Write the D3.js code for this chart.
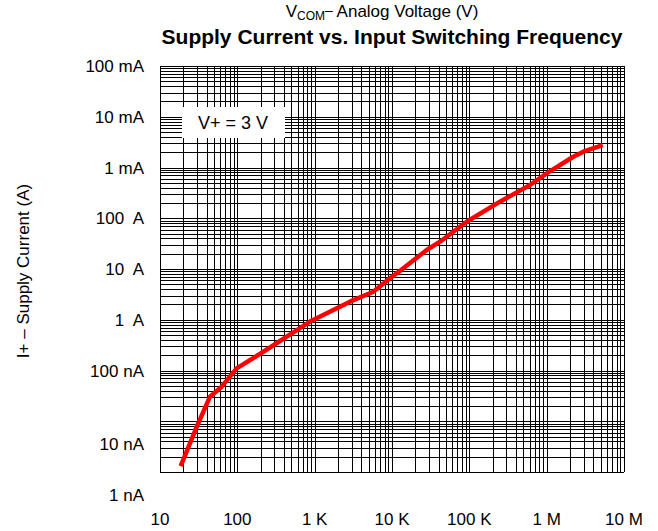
<!DOCTYPE html>
<html>
<head>
<meta charset="utf-8">
<script src="https://cdn.jsdelivr.net/npm/d3@7"></script>
<style>
  body { margin: 0; background: #fff; }
  svg { font-family: "Liberation Sans", Arial, sans-serif; }
</style>
</head>
<body>
<svg width="658" height="531"></svg>
<script>
// curve: input switching frequency (Hz) vs supply current (A)
const freq = [18.5, 29.9, 44.3, 62.8, 98, 217, 871, 2865, 5730, 9420, 14000, 28100,
              41800, 92500, 249000, 610000, 1.0e6, 2.21e6, 2.98e6, 5.31e6];
const current = [1.31e-9, 7.8e-9, 3.05e-8, 4.8e-8, 1.1e-7, 2.34e-7, 9.2e-7, 2.27e-6,
                 3.57e-6, 6.56e-6, 1.03e-5, 2.37e-5, 3.45e-5, 8.55e-5, 2.12e-4, 4.52e-4,
                 7.69e-4, 1.63e-3, 2.05e-3, 2.77e-3];

const xTicks = [10, 100, 1e3, 1e4, 1e5, 1e6, 1e7];
const xLabels = ["10", "100", "1 K", "10 K", "100 K", "1 M", "10 M"];
const yTicks = [1e-1, 1e-2, 1e-3, 1e-4, 1e-5, 1e-6, 1e-7, 1e-8, 1e-9];
const yLabels = ["100 mA", "10 mA", "1 mA", "100  A", "10  A", "1  A", "100 nA", "10 nA", "1 nA"];

const margin = { top: 66, right: 34, bottom: 59, left: 160 },
      width = 658 - margin.left - margin.right,
      height = 531 - margin.top - margin.bottom;

const svg = d3.select("svg");
const g = svg.append("g").attr("transform", `translate(${margin.left},${margin.top})`);

const x = d3.scaleLog().domain([10, 1e7]).range([0, width]);
const y = d3.scaleLog().domain([1e-9, 1e-1]).range([height, 0]);

// log grid, 1..9 in every decade
g.append("g")
  .selectAll("line")
  .data(x.ticks())
  .join("line")
  .attr("x1", d => Math.round(x(d)) + 0.5)
  .attr("x2", d => Math.round(x(d)) + 0.5)
  .attr("y1", 0)
  .attr("y2", height)
  .attr("stroke", "#000")
  .attr("stroke-width", 1);

g.append("g")
  .selectAll("line")
  .data(y.ticks())
  .join("line")
  .attr("x1", 0)
  .attr("x2", width)
  .attr("y1", d => Math.round(y(d)) + 0.5)
  .attr("y2", d => Math.round(y(d)) + 0.5)
  .attr("stroke", "#000")
  .attr("stroke-width", 1);

// legend box hides the grid behind it
const legend = g.append("g").attr("transform", "translate(22,41)");
legend.append("rect").attr("width", 103).attr("height", 31).attr("fill", "#fff");
legend.append("text")
  .attr("x", 51).attr("y", 22)
  .attr("text-anchor", "middle")
  .style("font-size", "18px")
  .text("V+ = 3 V");

// supply current curve
const line = d3.line()
  .x(d => x(d[0]))
  .y(d => y(d[1]));

g.append("path")
  .datum(freq.map((f, i) => [f, current[i]]))
  .attr("fill", "none")
  .attr("stroke", "#ff0000")
  .attr("stroke-width", 4.5)
  .attr("stroke-linejoin", "round")
  .attr("d", line);

// tick labels
g.append("g")
  .selectAll("text")
  .data(xTicks)
  .join("text")
  .attr("x", d => x(d))
  .attr("y", height + 53)
  .attr("text-anchor", "middle")
  .style("font-size", "17px")
  .text((d, i) => xLabels[i]);

g.append("g")
  .selectAll("text")
  .data(yTicks)
  .join("text")
  .attr("x", -16)
  .attr("y", d => y(d) + (d < 5e-8 ? 23 : 0))
  .attr("dy", "0.36em")
  .attr("text-anchor", "end")
  .style("font-size", "17px")
  .style("white-space", "pre")
  .text((d, i) => yLabels[i]);

// axis title
svg.append("text")
  .attr("transform", `translate(29,${margin.top + height / 2 + 2}) rotate(-90)`)
  .attr("text-anchor", "middle")
  .style("font-size", "17px")
  .text("I+ – Supply Current (A)");

// titles
const sub = svg.append("text")
  .attr("x", margin.left + width / 2 - 10)
  .attr("y", 17)
  .attr("text-anchor", "middle")
  .style("font-size", "17px");
sub.append("tspan").text("V");
sub.append("tspan").attr("dy", 3).style("font-size", "12px").text("COM");
sub.append("tspan").attr("dy", -5).style("font-size", "14px").text("–");
sub.append("tspan").attr("dy", 2).text(" Analog Voltage (V)");

svg.append("text")
  .attr("x", margin.left + width / 2)
  .attr("y", 44)
  .attr("text-anchor", "middle")
  .style("font-size", "21px")
  .style("font-weight", "bold")
  .text("Supply Current vs. Input Switching Frequency");
</script>
</body>
</html>
